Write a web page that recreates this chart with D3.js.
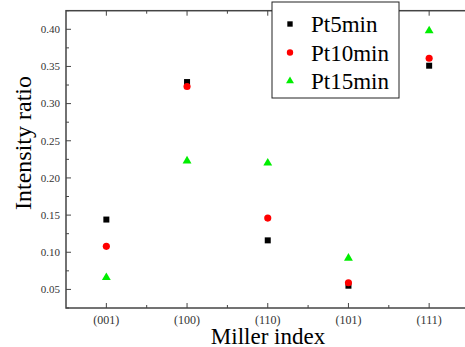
<!DOCTYPE html>
<html>
<head>
<meta charset="utf-8">
<script src="https://cdn.jsdelivr.net/npm/d3@7"></script>
<style>
body { margin: 0; background: #fff; }
svg { display: block; }
svg text { font-family: "Liberation Serif", "Times New Roman", Times, "DejaVu Serif", serif; }
</style>
</head>
<body>
<svg id="chart" width="465" height="347"></svg>
<script>
// data
var categories = ["(001)", "(100)", "(110)", "(101)", "(111)"]
var pt5 = [0.144, 0.329, 0.116, 0.055, 0.351]
var pt10 = [0.108, 0.323, 0.146, 0.059, 0.361]
var pt15 = [0.066, 0.223, 0.220, 0.092, 0.398]
var yTicks = [0.05, 0.10, 0.15, 0.20, 0.25, 0.30, 0.35, 0.40]
var seriesNames = ["Pt5min", "Pt10min", "Pt15min"]

var series = [
  {name: seriesNames[0], values: pt5, color: "#000000", shape: d3.symbolSquare, size: 36},
  {name: seriesNames[1], values: pt10, color: "#ff0000", shape: d3.symbolCircle, size: 40},
  {name: seriesNames[2], values: pt15, color: "#00ee00", shape: d3.symbolTriangle, size: 34}
]

var svg = d3.select("#chart")
// plot box (right edge runs past the window like the original)
var pL = 66, pR = 469.5, pT = 10.7, pB = 308

var x = d3.scaleLinear().domain([0.5, 5.5]).range([pL, pR])
var y = d3.scaleLinear().domain([0.025, 0.425]).range([pB, pT])

var axisColor = "#444"

// frame
svg.append("rect")
  .attr("x", pL).attr("y", pT)
  .attr("width", pR - pL).attr("height", pB - pT)
  .attr("fill", "none").attr("stroke", axisColor).attr("stroke-width", 1.5)

// y axis ticks (inside), majors labelled, minors between
var yMinor = d3.range(0.025, 0.426, 0.025)
svg.selectAll(".ytick").data(yMinor).enter().append("line")
  .attr("x1", pL).attr("x2", function(d){ return pL + (Math.abs(d*20 - Math.round(d*20)) < 0.01 ? 5 : 3) })
  .attr("y1", function(d){ return y(d) }).attr("y2", function(d){ return y(d) })
  .attr("stroke", axisColor).attr("stroke-width", 1)

svg.selectAll(".ylab").data(yTicks).enter().append("text")
  .attr("x", pL - 6).attr("y", function(d){ return y(d) })
  .attr("dy", "0.35em").attr("text-anchor", "end")
  .attr("font-size", 11).attr("fill", "#333")
  .text(function(d){ return d3.format(".2f")(d) })

// x axis ticks bottom & top
var xMajor = d3.range(1, 6)
var xMinor = d3.range(1.5, 5.5, 1)
function xTicks(pos, dir) {
  svg.selectAll(null).data(xMajor).enter().append("line")
    .attr("x1", function(d){ return x(d) }).attr("x2", function(d){ return x(d) })
    .attr("y1", pos).attr("y2", pos + dir * 5)
    .attr("stroke", axisColor)
  svg.selectAll(null).data(xMinor).enter().append("line")
    .attr("x1", function(d){ return x(d) }).attr("x2", function(d){ return x(d) })
    .attr("y1", pos).attr("y2", pos + dir * 3)
    .attr("stroke", axisColor)
}
xTicks(pB, -1)
xTicks(pT, 1)

svg.selectAll(".xlab").data(categories).enter().append("text")
  .attr("x", function(d, i){ return x(i + 1) }).attr("y", 324)
  .attr("text-anchor", "middle").attr("font-size", 12).attr("fill", "#333")
  .text(function(d){ return d })

// axis titles
svg.append("text")
  .attr("x", 268).attr("y", 344)
  .attr("text-anchor", "middle").attr("font-size", 23)
  .text("Miller index")

svg.append("text")
  .attr("transform", "translate(31,143) rotate(-90)")
  .attr("text-anchor", "middle").attr("font-size", 24)
  .text("Intensity ratio")

// points
series.forEach(function(s){
  svg.append("g").selectAll("path").data(s.values).enter().append("path")
    .attr("d", d3.symbol().type(s.shape).size(s.size))
    .attr("transform", function(d, i){ return "translate(" + x(i + 1) + "," + y(d) + ")" })
    .attr("fill", s.color)
})

// legend
var lg = svg.append("g")
lg.append("rect")
  .attr("x", 272).attr("y", 2).attr("width", 127).attr("height", 96)
  .attr("fill", "#fff").attr("stroke", "#222").attr("stroke-width", 1)
series.forEach(function(s, i){
  var ly = 24 + i * 28.5
  lg.append("path")
    .attr("d", d3.symbol().type(s.shape).size(s.size * 0.8))
    .attr("transform", "translate(290," + ly + ")")
    .attr("fill", s.color)
  lg.append("text")
    .attr("x", 311).attr("y", ly).attr("dy", "0.35em")
    .attr("font-size", 23)
    .text(s.name)
})
</script>
</body>
</html>
